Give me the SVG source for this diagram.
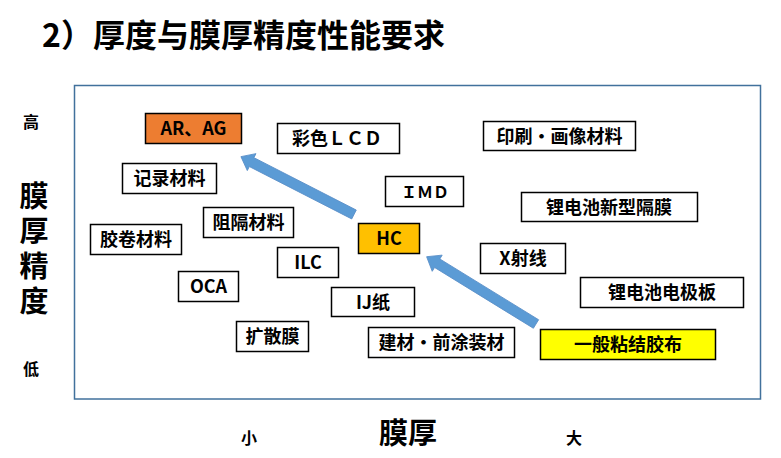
<svg xmlns="http://www.w3.org/2000/svg" width="781" height="458" viewBox="0 0 781 458">
<style>
text{font-family:"Noto Sans CJK SC","Liberation Sans",sans-serif;font-weight:bold;fill:#000}
.box{fill:#fff;stroke:#000;stroke-width:1.5}
.lbl{font-size:18px;text-anchor:middle}
.arr{fill:#5B9BD5;stroke:#5A8FC8;stroke-width:0.8}
.ax{font-size:16px;text-anchor:middle}
.big{font-size:29px;text-anchor:middle}
.vert{font-size:29px;writing-mode:vertical-rl;letter-spacing:6px}
</style>
<rect width="781" height="458" fill="#fff"/>
<text x="42" y="47" font-size="32">2）厚度与膜厚精度性能要求</text>
<rect x="74.5" y="85.5" width="686" height="313.5" fill="none" stroke="#41719C" stroke-width="1.5"/>
<g id="yaxis">
<text class="ax" x="31" y="128">高</text>
<text class="vert" x="34" y="181">膜厚精度</text>
<text class="ax" x="31" y="375">低</text>
</g>
<g id="xaxis">
<text class="ax" x="249" y="444">小</text>
<text class="big" x="408" y="444">膜厚</text>
<text class="ax" x="574" y="444">大</text>
</g>
<g id="connectors">
<polygon class="arr" transform="translate(354,214.5) rotate(207.1)" points="0,-5 115,-5 115,-9.5 127,0 115,9.5 115,5 0,5"/>
<polygon class="arr" transform="translate(536,324) rotate(211.6)" points="0,-5 116,-5 116,-9.5 128.4,0 116,9.5 116,5 0,5"/>
</g>
<g id="n-arag"><rect class="box" x="145.5" y="113.5" width="96" height="30" style="fill:#ED7D31"/><text class="lbl" x="193.5" y="135">AR、AG</text></g>
<g id="n-lcd"><rect class="box" x="277.5" y="123.5" width="122" height="30"/><text class="lbl" x="337" y="145">彩色ＬＣＤ</text></g>
<g id="n-print"><rect class="box" x="483.5" y="121.5" width="152" height="29"/><text class="lbl" x="559.5" y="142.5">印刷・画像材料</text></g>
<g id="n-record"><rect class="box" x="122.5" y="163.5" width="94" height="30"/><text class="lbl" x="169.5" y="185">记录材料</text></g>
<g id="n-imd"><rect class="box" x="385.5" y="176.5" width="78" height="30"/><text class="lbl" x="425" y="198" style="font-size:16px">ＩＭＤ</text></g>
<g id="n-sep"><rect class="box" x="521.5" y="192.5" width="176" height="29"/><text class="lbl" x="609" y="213.5">锂电池新型隔膜</text></g>
<g id="n-barrier"><rect class="box" x="203.5" y="207.5" width="90" height="30"/><text class="lbl" x="248.5" y="229">阻隔材料</text></g>
<g id="n-film"><rect class="box" x="90.5" y="224.5" width="91" height="30"/><text class="lbl" x="136" y="246">胶卷材料</text></g>
<g id="n-hc"><rect class="box" x="358.5" y="223.5" width="61" height="30" style="fill:#FFC000"/><text class="lbl" x="389" y="245">HC</text></g>
<g id="n-xray"><rect class="box" x="480.5" y="243.5" width="85" height="30"/><text class="lbl" x="523" y="265">X射线</text></g>
<g id="n-ilc"><rect class="box" x="277.5" y="247.5" width="61" height="30"/><text class="lbl" x="308" y="269">ILC</text></g>
<g id="n-oca"><rect class="box" x="178.5" y="271.5" width="60" height="30"/><text class="lbl" x="208.5" y="293">OCA</text></g>
<g id="n-electrode"><rect class="box" x="580.5" y="277.5" width="163" height="30"/><text class="lbl" x="662" y="299">锂电池电极板</text></g>
<g id="n-ij"><rect class="box" x="331.5" y="287.5" width="83" height="29"/><text class="lbl" x="373" y="308.5">IJ纸</text></g>
<g id="n-diff"><rect class="box" x="236.5" y="321.5" width="72" height="30"/><text class="lbl" x="272.5" y="343">扩散膜</text></g>
<g id="n-build"><rect class="box" x="368.5" y="327.5" width="146" height="30"/><text class="lbl" x="441.5" y="349">建材・前涂装材</text></g>
<g id="n-tape"><rect class="box" x="540.5" y="329.5" width="175" height="30" style="fill:#FFFF00"/><text class="lbl" x="628" y="351">一般粘结胶布</text></g>
</svg>
